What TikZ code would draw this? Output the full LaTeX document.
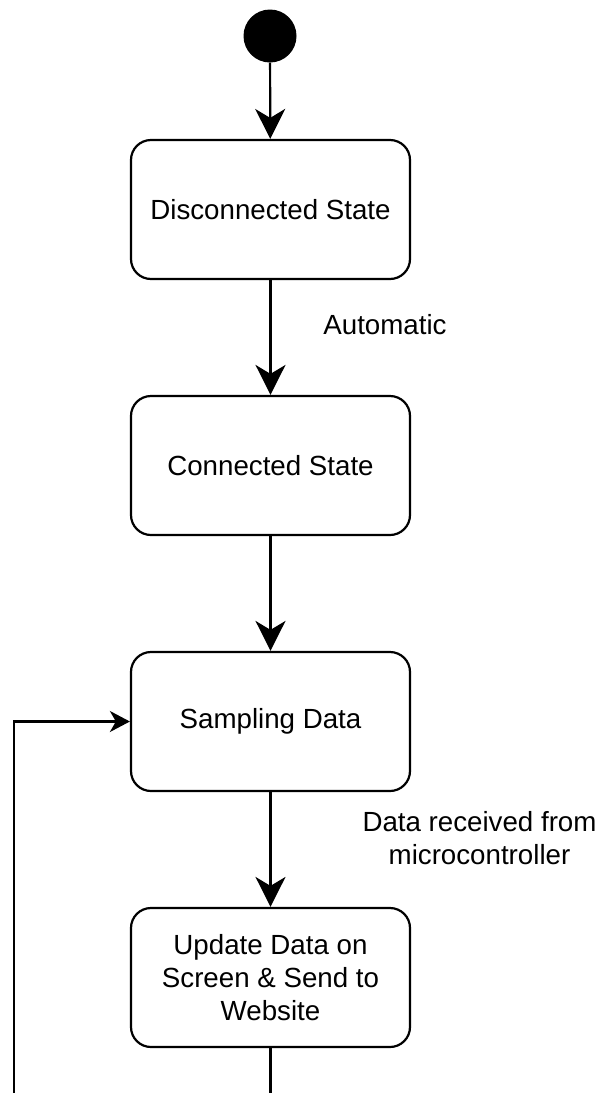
\documentclass[tikz,border=0pt]{standalone}
\usepackage{fontspec}
\setmainfont{Liberation Sans}
\usetikzlibrary{arrows.meta}
\tikzset{
  statebox/.style={draw, line width=2.2pt, rounded corners=20pt, minimum width=279pt, minimum height=139pt, align=center, inner sep=0pt},
  conn/.style={line width=2.2pt, -{Stealth[length=30pt, width=30pt, inset=9pt]}},
  loopconn/.style={line width=2.2pt, -{Stealth[length=20pt, width=21pt, inset=6pt]}},
  plain/.style={line width=2.2pt},
  lbl/.style={align=center, inner sep=0pt}
}
\begin{document}
\begin{tikzpicture}[x=1pt, y=-1pt, font=\fontsize{27.7}{33}\selectfont]
\useasboundingbox (0,0) rectangle (600,1093);
\node[circle, fill=black, minimum size=53pt, inner sep=0pt] (init) at (270,36) {};
\node[statebox] (disc) at (270.5,209.5) {Disconnected State};
\node[statebox] (conn) at (270.5,465.5) {Connected State};
\node[statebox] (samp) at (270.5,721.5) {Sampling Data};
\node[statebox] (upd) at (270.5,977.5) {Update Data on\\Screen \& Send to\\Website};
\node[lbl] (auto) at (385,325) {Automatic};
\node[lbl] (recv) at (479.5,838) {Data received from\\microcontroller};
\coordinate (botA) at (270.5,1093);
\coordinate (botB) at (14,1093);
\coordinate (turn) at (14,721.5);
\draw[conn] (init) -- (disc);
\draw[conn] (disc) -- (conn);
\draw[conn] (conn) -- (samp);
\draw[conn] (samp) -- (upd);
\draw[plain] (upd) -- (botA);
\draw[loopconn] (botB) -- (turn) -- (samp);
\end{tikzpicture}
\end{document}
